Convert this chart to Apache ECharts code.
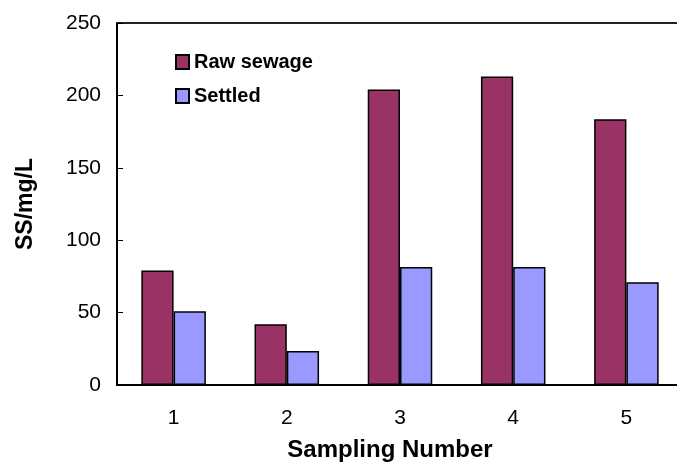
<!DOCTYPE html>
<html>
<head>
<meta charset="utf-8">
<script src="https://cdn.jsdelivr.net/npm/echarts@6/dist/echarts.min.js"></script>
<style>
  html, body { margin: 0; padding: 0; background: #fff; }
  #chart { width: 677px; height: 463px; }
</style>
</head>
<body>
<div id="chart"></div>
<script>
const samples = ['1', '2', '3', '4', '5'];
const rawSewage = [79, 42, 204, 213, 183.5];
const settled = [51, 23.5, 81.5, 81.5, 71];
const yTicks = [0, 50, 100, 150, 200, 250];

const font = '"Liberation Sans", Arial, sans-serif';
const chart = echarts.init(document.getElementById('chart'));

chart.setOption({
    animation: false,
    backgroundColor: '#fff',
    textStyle: { fontFamily: font },
    grid: {
        left: 117,
        top: 23,
        width: 566,
        height: 362,
        outerBoundsMode: 'none',
        containLabel: false
    },
    legend: {
        orient: 'vertical',
        left: 170,
        top: 47,
        icon: 'rect',
        itemWidth: 13,
        itemHeight: 14,
        itemGap: 14,
        textStyle: { fontSize: 20, fontWeight: 'bold', color: '#000', fontFamily: font },
        data: ['Raw sewage', 'Settled']
    },
    xAxis: [
        {
            type: 'category',
            data: samples,
            name: 'Sampling Number',
            nameLocation: 'middle',
            nameGap: 53,
            nameTextStyle: { fontSize: 24, fontWeight: 'bold', color: '#000', padding: [0, 20, 0, 0] },
            axisLine: { lineStyle: { color: '#000', width: 2 } },
            axisTick: { inside: true, length: 6, lineStyle: { color: '#000' } },
            axisLabel: { fontSize: 21, color: '#000', margin: 23 }
        },
        {
            // top frame line of the plot area
            type: 'category',
            data: samples,
            position: 'top',
            axisLine: { lineStyle: { color: '#222', width: 2 } },
            axisTick: { show: false },
            axisLabel: { show: false }
        }
    ],
    yAxis: {
        type: 'value',
        min: yTicks[0],
        max: yTicks[yTicks.length - 1],
        interval: yTicks[1] - yTicks[0],
        name: 'SS/mg/L',
        nameLocation: 'middle',
        nameGap: 80,
        nameTextStyle: { fontSize: 23, fontWeight: 'bold', color: '#000' },
        axisLine: { show: true, lineStyle: { color: '#000', width: 2 } },
        axisTick: { show: true, inside: true, length: 6, lineStyle: { color: '#000' } },
        axisLabel: { fontSize: 21, color: '#000', margin: 16 },
        splitLine: { show: false }
    },
    series: [
        {
            name: 'Raw sewage',
            type: 'bar',
            data: rawSewage,
            barGap: '0%',
            barCategoryGap: '43%',
            itemStyle: { color: '#993366', borderColor: '#000', borderWidth: 1.5 }
        },
        {
            name: 'Settled',
            type: 'bar',
            data: settled,
            itemStyle: { color: '#9999FF', borderColor: '#000', borderWidth: 1.5 }
        }
    ]
});
</script>
</body>
</html>
